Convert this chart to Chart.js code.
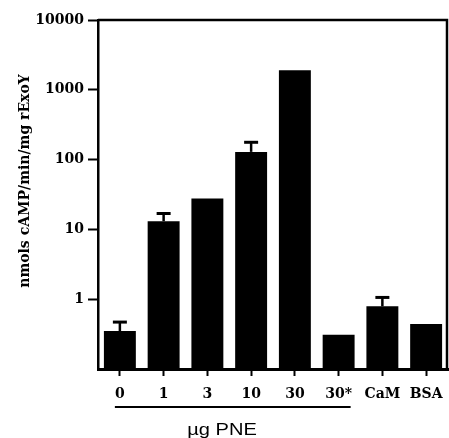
<!DOCTYPE html>
<html>
<head>
<meta charset="utf-8">
<script src="https://cdn.jsdelivr.net/npm/chart.js@4/dist/chart.umd.min.js"></script>
<style>
  html, body { margin: 0; padding: 0; background: #fff; }
  #wrap { width: 449px; height: 438px; }
</style>
</head>
<body>
<div id="wrap"><canvas id="c" width="449" height="438"></canvas></div>
<script>
// ---- data ----
const categories = ['0', '1', '3', '10', '30', '30*', 'CaM', 'BSA'];
const values = [0.35, 13.1, 27.7, 129, 1910, 0.31, 0.79, 0.44];
const errorTop = [0.47, 16.9, null, 177, null, null, 1.06, null];
const yTickValues = [1, 10, 100, 1000, 10000];
const yTitle = 'nmols cAMP/min/mg rExoY';
const groupLabel = 'µg PNE';
const groupRange = [0, 5]; // categories covered by the "µg PNE" underline

const serif = 'bold 14px "DejaVu Serif", serif';

const decorPlugin = {
  id: 'decor',
  afterDatasetsDraw(chart) {
    const ctx = chart.ctx;
    const meta = chart.getDatasetMeta(0);
    const ys = chart.scales.y;
    ctx.save();
    ctx.strokeStyle = '#000';
    ctx.fillStyle = '#000';
    errorTop.forEach((e, i) => {
      if (e == null) return;
      const bar = meta.data[i];
      const yTop = ys.getPixelForValue(e);
      ctx.lineWidth = 2.5;
      ctx.beginPath();
      ctx.moveTo(bar.x, bar.y);
      ctx.lineTo(bar.x, yTop);
      ctx.stroke();
      ctx.lineWidth = 3;
      ctx.beginPath();
      ctx.moveTo(bar.x - 7, yTop);
      ctx.lineTo(bar.x + 7, yTop);
      ctx.stroke();
    });
    ctx.restore();
  },
  afterDraw(chart) {
    const ctx = chart.ctx;
    const a = chart.chartArea;
    const xs = chart.scales.x;
    ctx.save();
    ctx.strokeStyle = '#000';
    ctx.lineWidth = 2.5;
    // top and right frame
    ctx.beginPath();
    ctx.moveTo(a.left, a.top);
    ctx.lineTo(a.right - 1, a.top);
    ctx.lineTo(a.right - 1, a.bottom);
    ctx.stroke();
    // group underline
    const x0 = xs.getPixelForValue(groupRange[0]) - 5;
    const x1 = xs.getPixelForValue(groupRange[1]) + 12;
    ctx.lineWidth = 2;
    ctx.beginPath();
    ctx.moveTo(x0, 407);
    ctx.lineTo(x1, 407);
    ctx.stroke();
    // group label
    ctx.fillStyle = '#000';
    ctx.font = '17px "Liberation Sans", Arial, sans-serif';
    ctx.textAlign = 'center';
    ctx.textBaseline = 'alphabetic';
    ctx.save();
    ctx.translate(222, 435);
    ctx.scale(1.18, 1);
    ctx.fillText(groupLabel, 0, 0);
    ctx.restore();
    // y title
    ctx.font = serif;
    ctx.translate(25, 181);
    ctx.rotate(-Math.PI / 2);
    ctx.textBaseline = 'middle';
    ctx.fillText(yTitle, 0, 0);
    ctx.restore();
  }
};

new Chart(document.getElementById('c'), {
  type: 'bar',
  data: {
    labels: categories,
    datasets: [{
      data: values,
      backgroundColor: '#000',
      borderWidth: 0,
      barPercentage: 0.73,
      categoryPercentage: 1.0
    }]
  },
  options: {
    responsive: false,
    animation: false,
    devicePixelRatio: 1,
    layout: { padding: { top: 20, right: 1, left: 0, bottom: 0 } },
    plugins: { legend: { display: false }, tooltip: { enabled: false } },
    scales: {
      x: {
        type: 'category',
        offset: true,
        afterFit(s) { s.height = 438 - 369; s.paddingLeft = 0; s.paddingRight = 0; },
        grid: {
          offset: false,
          drawOnChartArea: false,
          drawTicks: true,
          tickLength: 7,
          tickWidth: 2,
          tickColor: '#000'
        },
        border: { display: true, color: '#000', width: 3 },
        ticks: {
          color: '#000',
          font: { family: '"DejaVu Serif", serif', weight: 'bold', size: 14 },
          padding: 10,
          maxRotation: 0,
          autoSkip: false
        }
      },
      y: {
        type: 'logarithmic',
        min: 0.1,
        max: 10000,
        afterFit(s) { s.width = 98; s.paddingTop = 0; s.paddingBottom = 0; },
        afterBuildTicks(s) { s.ticks = yTickValues.map(v => ({ value: v })); },
        grid: {
          drawOnChartArea: false,
          drawTicks: true,
          tickLength: 10,
          tickWidth: 2,
          tickColor: '#000'
        },
        border: { display: true, color: '#000', width: 2.5 },
        ticks: {
          color: '#000',
          font: { family: '"DejaVu Serif", serif', weight: 'bold', size: 14 },
          padding: 4,
          callback: v => String(v)
        }
      }
    }
  },
  plugins: [decorPlugin]
});
</script>
</body>
</html>
